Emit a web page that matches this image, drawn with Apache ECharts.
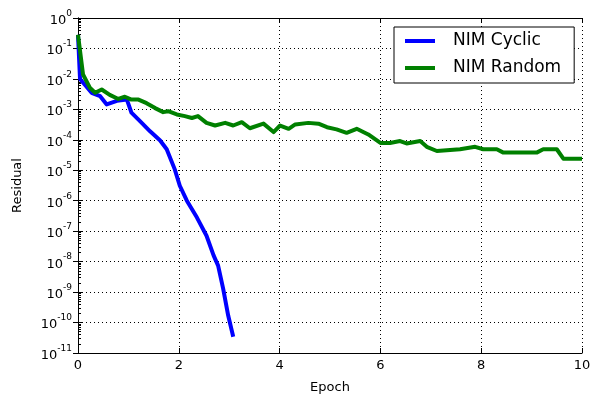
<!DOCTYPE html>
<html><head><meta charset="utf-8">
<script src="https://cdn.jsdelivr.net/npm/echarts@6/dist/echarts.min.js"></script>
<style>html,body{margin:0;padding:0;background:#fff}#c{width:596px;height:399px}</style>
</head><body><div id="c"></div>
<script>
const cyclicX = [0, 0.04, 0.27, 0.44, 0.57, 0.77, 0.97, 1.06, 1.23, 1.43, 1.63, 1.76, 1.92, 2.02, 2.16, 2.36, 2.55, 2.69, 2.78, 2.88, 2.98, 3.08];
const cyclicY = [2.8e-1, 1.0e-2, 3.5e-3, 2.7e-3, 1.45e-3, 1.9e-3, 2.1e-3, 7.8e-4, 4.1e-4, 1.9e-4, 9.5e-5, 4.9e-5, 1.07e-5, 3.1e-6, 1.0e-6, 2.8e-7, 7.1e-8, 1.6e-8, 7.4e-9, 1.3e-9, 1.7e-10, 3.4e-11];
const randomX = [0, 0.1, 0.24, 0.34, 0.47, 0.63, 0.80, 0.93, 1.06, 1.2, 1.36, 1.53, 1.69, 1.79, 1.96, 2.12, 2.26, 2.38, 2.55, 2.72, 2.92, 3.08, 3.25, 3.41, 3.68, 3.88, 4.01, 4.18, 4.31, 4.57, 4.77, 4.94, 5.13, 5.33, 5.53, 5.76, 6.0, 6.19, 6.39, 6.52, 6.79, 6.92, 7.12, 7.58, 7.88, 8.04, 8.31, 8.44, 9.1, 9.23, 9.5, 9.63, 10];
const randomY = [2.8e-1, 1.4e-2, 5.0e-3, 3.5e-3, 4.5e-3, 3.0e-3, 2.2e-3, 2.6e-3, 2.1e-3, 2.1e-3, 1.6e-3, 1.1e-3, 8.1e-4, 8.7e-4, 6.8e-4, 6.0e-4, 5.2e-4, 6.0e-4, 3.6e-4, 2.95e-4, 3.6e-4, 2.95e-4, 3.8e-4, 2.4e-4, 3.4e-4, 1.8e-4, 2.95e-4, 2.3e-4, 3.2e-4, 3.6e-4, 3.4e-4, 2.6e-4, 2.2e-4, 1.7e-4, 2.3e-4, 1.5e-4, 7.9e-5, 7.9e-5, 9.1e-5, 7.6e-5, 9.1e-5, 5.9e-5, 4.3e-5, 4.9e-5, 5.9e-5, 4.9e-5, 4.9e-5, 3.8e-5, 3.8e-5, 4.9e-5, 4.9e-5, 2.4e-5, 2.4e-5];
const seriesNames = ['NIM Cyclic', 'NIM Random'];
const xTicks = [0, 2, 4, 6, 8, 10];
const yMin = 1e-11, yMax = 1;

const font = 'DejaVu Sans';
const dotted = {show: true, lineStyle: {color: '#000', type: [1, 3], width: 1}};
const chart = echarts.init(document.getElementById('c'), null, {renderer: 'canvas'});
function pairs(xs, ys) { return xs.map((x, i) => [x, ys[i]]); }
chart.setOption({
  animation: false,
  textStyle: {fontFamily: font},
  grid: {left: 78, right: 14, top: 18, bottom: 44, containLabel: false},
  legend: {
    orient: 'vertical', left: 394, top: 27,
    padding: [5, 13, 6, 11], itemGap: 9,
    borderColor: '#000', borderWidth: 1, backgroundColor: '#fff',
    icon: 'rect', itemWidth: 30, itemHeight: 4,
    textStyle: {fontFamily: font, fontSize: 17, lineHeight: 18, color: '#000', padding: [0, 0, 0, 13]},
    data: seriesNames
  },
  xAxis: [{
    type: 'value', min: xTicks[0], max: xTicks[xTicks.length - 1], interval: 2,
    name: 'Epoch', nameLocation: 'middle', nameGap: 28,
    nameTextStyle: {fontFamily: font, fontSize: 13, color: '#000'},
    axisLine: {show: true, lineStyle: {color: '#000', width: 1}},
    axisTick: {show: true, inside: true, length: 5, lineStyle: {color: '#000'}},
    axisLabel: {fontFamily: font, fontSize: 13, color: '#000', margin: 6},
    splitLine: dotted
  }, {
    type: 'value', min: xTicks[0], max: xTicks[xTicks.length - 1], interval: 2, position: 'top',
    axisLine: {show: true, lineStyle: {color: '#000', width: 1}},
    axisTick: {show: true, inside: true, length: 5, lineStyle: {color: '#000'}},
    axisLabel: {show: false}, splitLine: {show: false}
  }],
  yAxis: [{
    type: 'log', logBase: 10, min: yMin, max: yMax, interval: 1,
    name: 'Residual', nameLocation: 'middle', nameGap: 54,
    nameTextStyle: {fontFamily: font, fontSize: 13, color: '#000'},
    axisLine: {show: true, lineStyle: {color: '#000', width: 1}},
    axisTick: {show: true, inside: true, length: 5, lineStyle: {color: '#000'}},
    minorTick: {show: true, splitNumber: 9, length: 3, lineStyle: {color: '#000'}},
    axisLabel: {
      margin: 6, color: '#000',
      formatter: v => '{b|10}{s|' + Math.round(Math.log10(v)) + '}',
      rich: {
        b: {fontFamily: font, fontSize: 13, color: '#000', lineHeight: 18, verticalAlign: 'bottom'},
        s: {fontFamily: font, fontSize: 9, color: '#000', lineHeight: 18, verticalAlign: 'top', padding: [0, 0, 6, 0]}
      }
    },
    splitLine: dotted
  }, {
    type: 'log', logBase: 10, min: yMin, max: yMax, interval: 1, position: 'right',
    axisLine: {show: true, lineStyle: {color: '#000', width: 1}},
    axisTick: {show: true, inside: true, length: 5, lineStyle: {color: '#000'}},
    axisLabel: {show: false}, splitLine: {show: false}
  }],
  series: [{
    name: seriesNames[0], type: 'line', data: pairs(cyclicX, cyclicY),
    showSymbol: false, symbol: 'none', color: '#0000ff',
    lineStyle: {width: 4, color: '#0000ff', join: 'round'}
  }, {
    name: seriesNames[1], type: 'line', data: pairs(randomX, randomY),
    showSymbol: false, symbol: 'none', color: '#008000',
    lineStyle: {width: 4, color: '#008000', join: 'round'}
  }]
});
</script></body></html>
